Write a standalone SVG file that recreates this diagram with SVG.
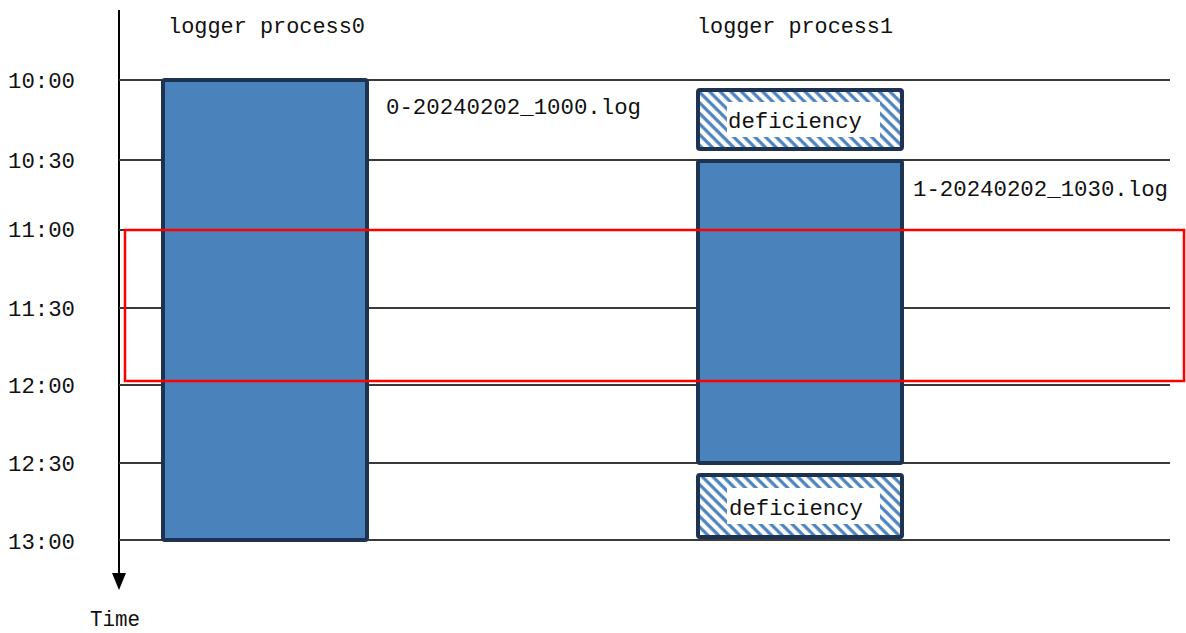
<svg xmlns="http://www.w3.org/2000/svg" width="1186" height="633" viewBox="0 0 1186 633">
<style>
.t{font-family:"Liberation Mono","DejaVu Sans Mono",monospace;font-size:22.4px;fill:#111}
.grid{stroke:#3a3a3a;stroke-width:2;fill:none}
.bar{fill:#4a82bb;stroke:#1e3352;stroke-width:4}
.def{fill:url(#hatch);stroke:#1e3352;stroke-width:4}
</style>
<defs>
<pattern id="hatch" patternUnits="userSpaceOnUse" width="7.5" height="7.5" patternTransform="rotate(-45)">
<rect width="7.5" height="7.5" fill="#fff"/>
<line x1="2" y1="0" x2="2" y2="7.5" stroke="#4a82bb" stroke-width="3.2"/>
</pattern>
</defs>
<g id="axis">
<line x1="119" y1="10" x2="119" y2="576" stroke="#000" stroke-width="2"/>
<polygon points="112,573 126,573 119,590" fill="#000"/>
<text class="t" x="90" y="626" font-size="21" textLength="50" lengthAdjust="spacingAndGlyphs">Time</text>
</g>
<g id="grid">
<line class="grid" x1="119" y1="80" x2="1170" y2="80"/>
<line class="grid" x1="119" y1="160" x2="1170" y2="160"/>
<line class="grid" x1="119" y1="230" x2="1170" y2="230"/>
<line class="grid" x1="119" y1="308" x2="1170" y2="308"/>
<line class="grid" x1="119" y1="385" x2="1170" y2="385"/>
<line class="grid" x1="119" y1="463" x2="1170" y2="463"/>
<line class="grid" x1="119" y1="540" x2="1170" y2="540"/>
</g>
<g id="time-labels">
<text class="t" x="8" y="88" textLength="67" lengthAdjust="spacingAndGlyphs">10:00</text>
<text class="t" x="8" y="168" textLength="67" lengthAdjust="spacingAndGlyphs">10:30</text>
<text class="t" x="8" y="237" textLength="67" lengthAdjust="spacingAndGlyphs">11:00</text>
<text class="t" x="8" y="316" textLength="67" lengthAdjust="spacingAndGlyphs">11:30</text>
<text class="t" x="8" y="393" textLength="67" lengthAdjust="spacingAndGlyphs">12:00</text>
<text class="t" x="8" y="471" textLength="67" lengthAdjust="spacingAndGlyphs">12:30</text>
<text class="t" x="8" y="549" textLength="67" lengthAdjust="spacingAndGlyphs">13:00</text>
</g>
<g id="process0">
<text class="t" x="168" y="33" textLength="197" lengthAdjust="spacingAndGlyphs">logger process0</text>
<rect class="bar" x="163" y="80" width="204" height="460" rx="2"/>
<text class="t" x="386" y="114" textLength="255" lengthAdjust="spacingAndGlyphs">0-20240202_1000.log</text>
</g>
<g id="process1">
<text class="t" x="697" y="33" textLength="196" lengthAdjust="spacingAndGlyphs">logger process1</text>
<rect class="bar" x="698" y="161" width="204" height="302" rx="2"/>
<text class="t" x="913" y="196" textLength="255" lengthAdjust="spacingAndGlyphs">1-20240202_1030.log</text>
</g>
<g id="deficiency1">
<rect class="def" x="698" y="90" width="204" height="59" rx="2"/>
<rect x="727" y="102" width="153" height="35" fill="#fff"/>
<text class="t" x="728" y="128" textLength="134" lengthAdjust="spacingAndGlyphs">deficiency</text>
</g>
<g id="deficiency2">
<rect class="def" x="698" y="475" width="204" height="62" rx="2"/>
<rect x="727" y="488" width="153" height="36" fill="#fff"/>
<text class="t" x="729" y="515" textLength="134" lengthAdjust="spacingAndGlyphs">deficiency</text>
</g>
<g id="highlight">
<rect x="125" y="230" width="1059" height="151" fill="none" stroke="#ff0000" stroke-width="2.5"/>
</g>
</svg>
